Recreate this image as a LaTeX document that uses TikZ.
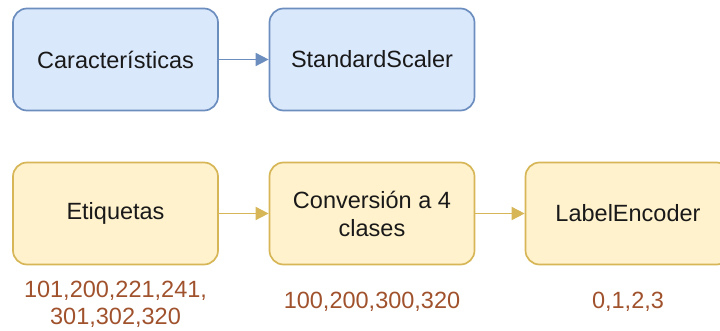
\documentclass[tikz,border=0pt]{standalone}
\usepackage{fontspec}
\setmainfont{Liberation Sans}
\usetikzlibrary{arrows.meta}
\definecolor{bluefill}{HTML}{DAE8FC}
\definecolor{blueline}{HTML}{6C8EBF}
\definecolor{yellowfill}{HTML}{FFF2CC}
\definecolor{yellowline}{HTML}{D6B656}
\definecolor{valcol}{HTML}{A0522D}
\tikzset{>={Triangle[length=13pt,width=13pt]}}
\tikzset{bluebox/.style = {shape=rectangle,rounded corners=14pt,draw=blueline,fill=bluefill,line width=1.7pt,minimum width=205pt,minimum height=102pt,font=\fontsize{23.5}{28}\selectfont,align=center,text=black!90}}
\tikzset{yellowbox/.style = {shape=rectangle,rounded corners=14pt,draw=yellowline,fill=yellowfill,line width=1.7pt,minimum width=205pt,minimum height=102pt,font=\fontsize{23.5}{28}\selectfont,align=center,text=black!90}}
\tikzset{values/.style = {text=valcol,font=\fontsize{23.5}{27}\selectfont,align=center}}

\begin{document}
\begin{tikzpicture}[x=1pt,y=-1pt]
    \useasboundingbox (0,0) rectangle (720,331);
    \clip (0,0) rectangle (720,331);

    \node[bluebox] (feat) at (115.5,59.5) {Características};
    \node[bluebox] (scaler) at (372,59.5) {StandardScaler};

    \node[yellowbox] (labels) at (115.5,213.5) {Etiquetas};
    \node[yellowbox] (conv) at (372,213.5) {Conversión a 4\\clases};
    \node[yellowbox] (enc) at (628,213.5) {LabelEncoder};

    \node[values] (rawvals) at (115.5,304.5) {101,200,221,241,\\301,302,320};
    \node[values] (convvals) at (372,302) {100,200,300,320};
    \node[values] (encvals) at (628,302) {0,1,2,3};

    \draw[->,blueline,line width=1.7pt] (feat) -- (scaler);
    \draw[->,yellowline,line width=1.7pt] (labels) -- (conv);
    \draw[->,yellowline,line width=1.7pt] (conv) -- (enc);
\end{tikzpicture}
\end{document}
